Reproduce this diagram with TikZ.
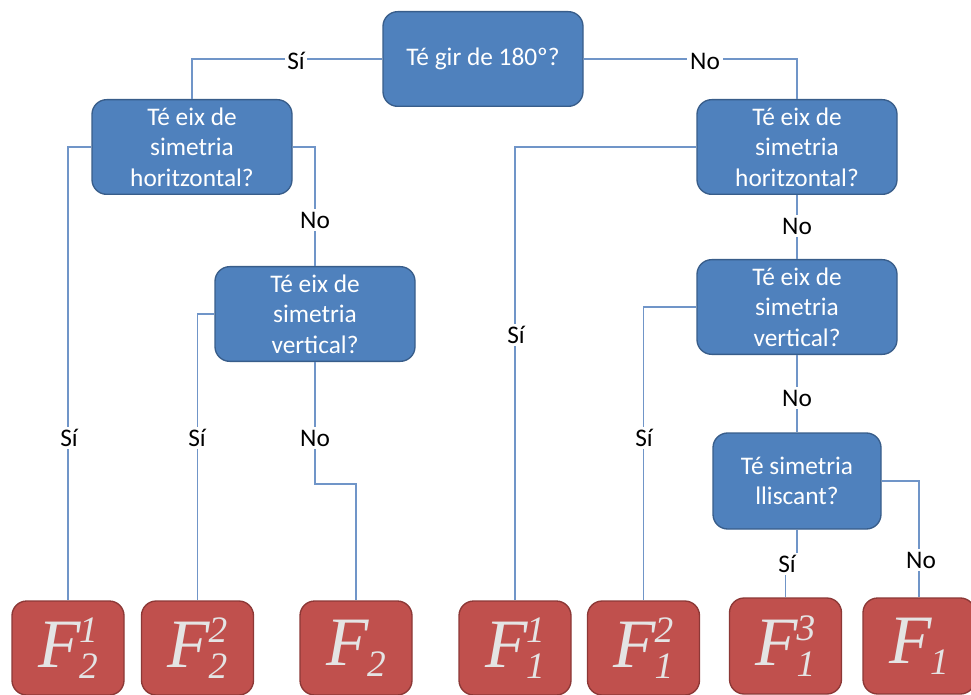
\documentclass[tikz,border=0pt]{standalone}
\usepackage{fontspec}
\setmainfont{Carlito}
\newfontfamily\tms{Liberation Serif}
\definecolor{qfill}{HTML}{4F81BD}
\definecolor{qdraw}{HTML}{385D8A}
\definecolor{ffill}{HTML}{C0504D}
\definecolor{fdraw}{HTML}{8C3836}
\definecolor{wire}{HTML}{7095C8}
\definecolor{ftext}{HTML}{E4E4E4}
\newcommand\FF[2]{{\tms\itshape\fontsize{52}{52}\selectfont F\kern-1pt\fontsize{28}{28}\selectfont\rlap{\raisebox{19pt}{#1}}\raisebox{-8pt}{#2}}}
\tikzset{
  q/.style={draw=qdraw, line width=1pt, fill=qfill, rounded corners=11pt, minimum width=150pt, minimum height=71pt, text=white, font=\fontsize{19}{23}\selectfont, align=center, inner sep=1pt},
  fbox/.style={draw=fdraw, line width=1pt, fill=ffill, rounded corners=11pt, minimum width=84pt, minimum height=70.5pt, text=ftext, inner sep=0pt},
  wire/.style={draw=wire, line width=0.8pt},
  lab/.style={fill=white, inner sep=2pt, font=\fontsize{19}{23}\selectfont, text=black}
}
\begin{document}
\begin{tikzpicture}[x=0.75pt,y=-0.75pt]
\useasboundingbox (0,0) rectangle (971,695);
% question nodes
\node[q] (top) at (483,59) {Té gir de 180º?};
\node[q] (lh) at (192,147) {Té eix de\\simetria\\horitzontal?};
\node[q] (lv) at (315,314) {Té eix de\\simetria\\vertical?};
\node[q] (rh) at (797,147) {Té eix de\\simetria\\horitzontal?};
\node[q] (rv) at (797,307) {Té eix de\\simetria\\vertical?};
\node[q, minimum width=126pt, minimum height=72pt] (ll) at (797,481) {Té simetria\\lliscant?};
% result nodes
\node[fbox] (f1) at (68,648) {\FF{1}{2}};
\node[fbox] (f2) at (197.5,648) {\FF{2}{2}};
\node[fbox] (f3) at (356,648) {\FF{}{2}};
\node[fbox] (f4) at (515,648) {\FF{1}{1}};
\node[fbox] (f5) at (643.5,648) {\FF{2}{1}};
\node[fbox, minimum height=72pt] (f6) at (785.5,646) {\FF{3}{1}};
\node[fbox, minimum height=72pt] (f7) at (919,646) {\FF{}{1}};
% connectors
\draw[wire] (top.west) -| (lh.north);
\draw[wire] (top.east) -| (rh.north);
\draw[wire] (lh.west) -| (f1.north);
\draw[wire] (lh.east) -| (lv.north);
\draw[wire] (lv.west) -| (f2.north);
\coordinate (j1) at (315,484);
\draw[wire] (lv.south) -- (j1) -| (f3.north);
\draw[wire] (rh.west) -| (f4.north);
\draw[wire] (rh.south) -- (rv.north);
\draw[wire] (rv.west) -| (f5.north);
\draw[wire] (rv.south) -- (ll.north);
\coordinate (j2) at (797,556);
\draw[wire] (ll.south) -- (j2) -| (f6.north);
\draw[wire] (ll.east) -| (f7.north);
% labels
\node[lab] at (296,61) {Sí};
\node[lab] at (705,61) {No};
\node[lab] at (69,438) {Sí};
\node[lab] at (315,220) {No};
\node[lab] at (197,438) {Sí};
\node[lab] at (315,438) {No};
\node[lab] at (516,335) {Sí};
\node[lab] at (797,226) {No};
\node[lab] at (644,438) {Sí};
\node[lab] at (797,398) {No};
\node[lab] at (787,564) {Sí};
\node[lab] at (921,560) {No};
\end{tikzpicture}
\end{document}
